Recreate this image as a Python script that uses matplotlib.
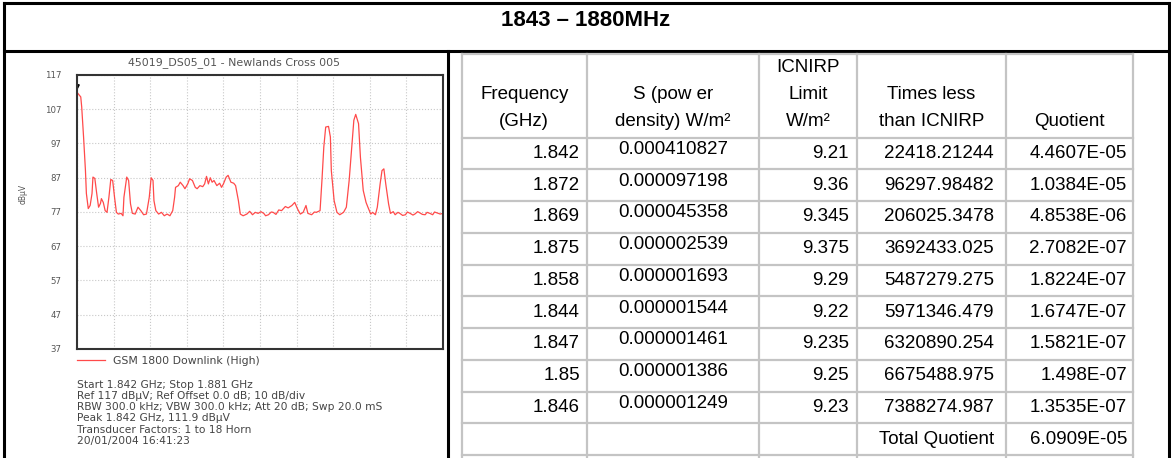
import matplotlib
matplotlib.use('Agg')
import numpy as np
import matplotlib.pyplot as plt

W, H = 1171, 458

# spectrum trace (GHz, dBuV)
freq_ghz = [1.8420, 1.8421, 1.8424, 1.8425, 1.8427, 1.8429, 1.8430, 1.8432, 1.8434, 1.8436,
            1.8437, 1.8439, 1.8441, 1.8443, 1.8445, 1.8446, 1.8448, 1.8450, 1.8452, 1.8454,
            1.8456, 1.8458, 1.8460, 1.8462, 1.8464, 1.8467, 1.8469, 1.8470, 1.8473, 1.8475,
            1.8477, 1.8479, 1.8482, 1.8485, 1.8488, 1.8491, 1.8494, 1.8497, 1.8499, 1.8501,
            1.8502, 1.8504, 1.8507, 1.8510, 1.8513, 1.8516, 1.8519, 1.8522, 1.8524, 1.8525,
            1.8528, 1.8530, 1.8533, 1.8535, 1.8538, 1.8540, 1.8543, 1.8546, 1.8548, 1.8551,
            1.8554, 1.8556, 1.8558, 1.8560, 1.8562, 1.8564, 1.8566, 1.8569, 1.8572, 1.8574,
            1.8576, 1.8579, 1.8581, 1.8584, 1.8587, 1.8589, 1.8592, 1.8594, 1.8597, 1.8601,
            1.8604, 1.8607, 1.8610, 1.8613, 1.8616, 1.8619, 1.8621, 1.8624, 1.8627, 1.8629,
            1.8632, 1.8635, 1.8638, 1.8642, 1.8645, 1.8649, 1.8652, 1.8655, 1.8658, 1.8661,
            1.8664, 1.8666, 1.8670, 1.8673, 1.8675, 1.8679, 1.8681, 1.8683, 1.8685, 1.8688,
            1.8690, 1.8691, 1.8694, 1.8697, 1.8700, 1.8704, 1.8707, 1.8710, 1.8713, 1.8715,
            1.8717, 1.8720, 1.8722, 1.8725, 1.8728, 1.8730, 1.8733, 1.8735, 1.8738, 1.8740,
            1.8743, 1.8745, 1.8747, 1.8749, 1.8752, 1.8754, 1.8757, 1.8759, 1.8762, 1.8764,
            1.8767, 1.8770, 1.8772, 1.8775, 1.8778, 1.8780, 1.8783, 1.8785, 1.8788, 1.8791,
            1.8793, 1.8796, 1.8799, 1.8801, 1.8804, 1.8807, 1.8810]
level_dbuv = [111.9, 111.6, 110.6, 107.7, 98.9, 89.1, 82.4, 78.0, 78.9, 82.4,
              87.2, 86.8, 82.4, 78.4, 79.5, 80.9, 79.8, 77.4, 76.9, 81.3,
              86.5, 86.2, 81.3, 76.9, 76.4, 76.6, 75.9, 81.3, 87.2, 86.2,
              79.4, 76.6, 76.4, 78.4, 77.4, 76.2, 76.4, 81.3, 87.0, 86.2,
              80.3, 77.4, 76.4, 76.9, 75.9, 76.4, 75.9, 77.4, 81.3, 84.2,
              84.7, 85.7, 84.7, 83.8, 85.2, 86.7, 86.2, 84.2, 83.8, 84.7,
              84.4, 85.2, 87.4, 85.2, 87.0, 85.7, 86.2, 84.7, 85.4, 84.2,
              85.2, 87.2, 87.7, 85.7, 85.4, 84.7, 80.3, 76.4, 75.9, 76.4,
              77.2, 76.2, 76.9, 76.6, 77.1, 76.6, 75.9, 76.2, 77.0, 76.9,
              76.3, 77.6, 77.4, 78.6, 78.2, 78.9, 79.8, 77.9, 76.4, 76.9,
              78.9, 76.6, 76.2, 77.0, 76.9, 77.4, 86.2, 96.0, 101.8, 102.0,
              98.9, 89.1, 80.3, 76.9, 76.2, 76.9, 78.4, 86.2, 97.0, 103.8,
              105.5, 102.8, 93.0, 83.3, 79.8, 78.4, 76.4, 76.9, 76.2, 78.4,
              85.2, 89.1, 89.6, 85.2, 79.4, 76.6, 77.1, 76.2, 76.9, 76.6,
              76.0, 76.2, 77.0, 76.6, 76.1, 76.4, 77.1, 76.8, 76.3, 76.2,
              76.9, 76.6, 76.2, 77.0, 76.7, 76.4, 76.6]

spec_title = '45019_DS05_01 - Newlands Cross 005'
trace_name = 'GSM 1800 Downlink (High)'
info_lines = ['Start 1.842 GHz; Stop 1.881 GHz',
              'Ref 117 dB\u00b5V; Ref Offset 0.0 dB; 10 dB/div',
              'RBW 300.0 kHz; VBW 300.0 kHz; Att 20 dB; Swp 20.0 mS',
              'Peak 1.842 GHz, 111.9 dB\u00b5V',
              'Transducer Factors: 1 to 18 Horn',
              '20/01/2004 16:41:23']

# table
headers = [['Frequency', '(GHz)'], ['S (pow er', 'density) W/m\u00b2'],
           ['ICNIRP', 'Limit', 'W/m\u00b2'], ['Times less', 'than ICNIRP'], ['Quotient']]
freq_col = ['1.842', '1.872', '1.869', '1.875', '1.858', '1.844', '1.847', '1.85', '1.846']
power_col = ['0.000410827', '0.000097198', '0.000045358', '0.000002539', '0.000001693',
             '0.000001544', '0.000001461', '0.000001386', '0.000001249']
limit_col = ['9.21', '9.36', '9.345', '9.375', '9.29', '9.22', '9.235', '9.25', '9.23']
times_col = ['22418.21244', '96297.98482', '206025.3478', '3692433.025', '5487279.275',
             '5971346.479', '6320890.254', '6675488.975', '7388274.987']
quot_col = ['4.4607E-05', '1.0384E-05', '4.8538E-06', '2.7082E-07', '1.8224E-07',
            '1.6747E-07', '1.5821E-07', '1.498E-07', '1.3535E-07']
total_label = 'Total Quotient'
total_value = '6.0909E-05'
title = '1843 \u2013 1880MHz'

fig = plt.figure(figsize=(W / 100, H / 100), dpi=100)

# overlay in pixel coordinates for frame + table
ov = fig.add_axes([0, 0, 1, 1])
ov.set_xlim(0, W)
ov.set_ylim(H, 0)
ov.axis('off')

blk = dict(color='black', lw=2.2, solid_capstyle='projecting')
ov.plot([4, 1169], [3, 3], **blk)
ov.plot([4, 1169], [51, 51], **blk)
ov.plot([4, 4], [3, H], **blk)
ov.plot([1169, 1169], [3, H], **blk)
ov.plot([448, 448], [51, H], **blk)

ov.text(586, 21, title, ha='center', va='center', fontsize=16, fontweight='bold',
        family='Liberation Sans')

col_edges = [461.5, 587, 759, 857, 1006, 1133]
table_top = 54
row_h = 31.75
row_edges = [137.5 + i * row_h for i in range(11)]
gray = dict(color='#c4c4c4', lw=1.6)
for x in col_edges:
    ov.plot([x, x], [table_top, H], **gray)
for y in [table_top] + row_edges:
    ov.plot([col_edges[0], col_edges[-1]], [y, y], **gray)

tf = dict(fontsize=13.5, family='Liberation Sans', color='black')
for c, lines in enumerate(headers):
    cx = (col_edges[c] + col_edges[c + 1]) / 2
    for k, s in enumerate(reversed(lines)):
        ov.text(cx, 121 - k * 26.5, s, ha='center', va='center', **tf)

columns = [freq_col, power_col, limit_col, times_col, quot_col]
aligns = ['right', 'center', 'right', 'right', 'right']
pads = [7, 0, 8, 12, 6]
for c, vals in enumerate(columns):
    for r, s in enumerate(vals):
        yc = (row_edges[r] + row_edges[r + 1]) / 2
        if aligns[c] == 'center':
            ov.text((col_edges[c] + col_edges[c + 1]) / 2, yc - 4, s, ha='center', va='center', **tf)
        else:
            ov.text(col_edges[c + 1] - pads[c], yc, s, ha='right', va='center', **tf)
yc = (row_edges[9] + row_edges[10]) / 2
ov.text(col_edges[4] - pads[3], yc, total_label, ha='right', va='center', **tf)
ov.text(col_edges[5] - pads[4], yc, total_value, ha='right', va='center', **tf)

# spectrum plot
ax = fig.add_axes([77 / W, 1 - 349 / H, 366 / W, 274 / H])
ax.plot(freq_ghz, level_dbuv, color='#ff4a4a', lw=0.9, label=trace_name)
ax.plot(freq_ghz[0], 113.8, marker='v', color='black', ms=2.5)
ax.set_xlim(1.842, 1.881)
ax.set_ylim(37, 117)
ax.set_yticks(np.arange(37, 118, 10))
ax.set_xticks(np.linspace(1.842, 1.881, 11))
ax.set_xticklabels([])
ax.tick_params(axis='both', length=0)
ax.tick_params(axis='y', pad=11, labelsize=6.2, labelcolor='#555555')
ax.grid(True, color='#c8c8c8', ls=':', lw=0.8)
for sp in ax.spines.values():
    sp.set_color('#333333')
    sp.set_linewidth(1.5)
fig.text(234 / W, 1 - 63 / H, spec_title, ha='center', va='center', fontsize=7.9,
         color='#555555')
ax.set_ylabel('dB\u00b5V', fontsize=5.5, color='#555555')
ax.yaxis.set_label_coords(-0.134, 0.566)

leg = ax.legend(loc='center left', bbox_to_anchor=(77 / W, 1 - 361 / H),
                bbox_transform=fig.transFigure, frameon=False, fontsize=7.8,
                handlelength=2.6, borderpad=0, borderaxespad=0, handletextpad=0.7)
for t in leg.get_texts():
    t.set_color('#444444')

for i, s in enumerate(info_lines):
    fig.text(77 / W, 1 - (384.5 + i * 11.3) / H, s, ha='left', va='center',
             fontsize=7.7, color='#444444')

fig.savefig('out.png', dpi=100)
